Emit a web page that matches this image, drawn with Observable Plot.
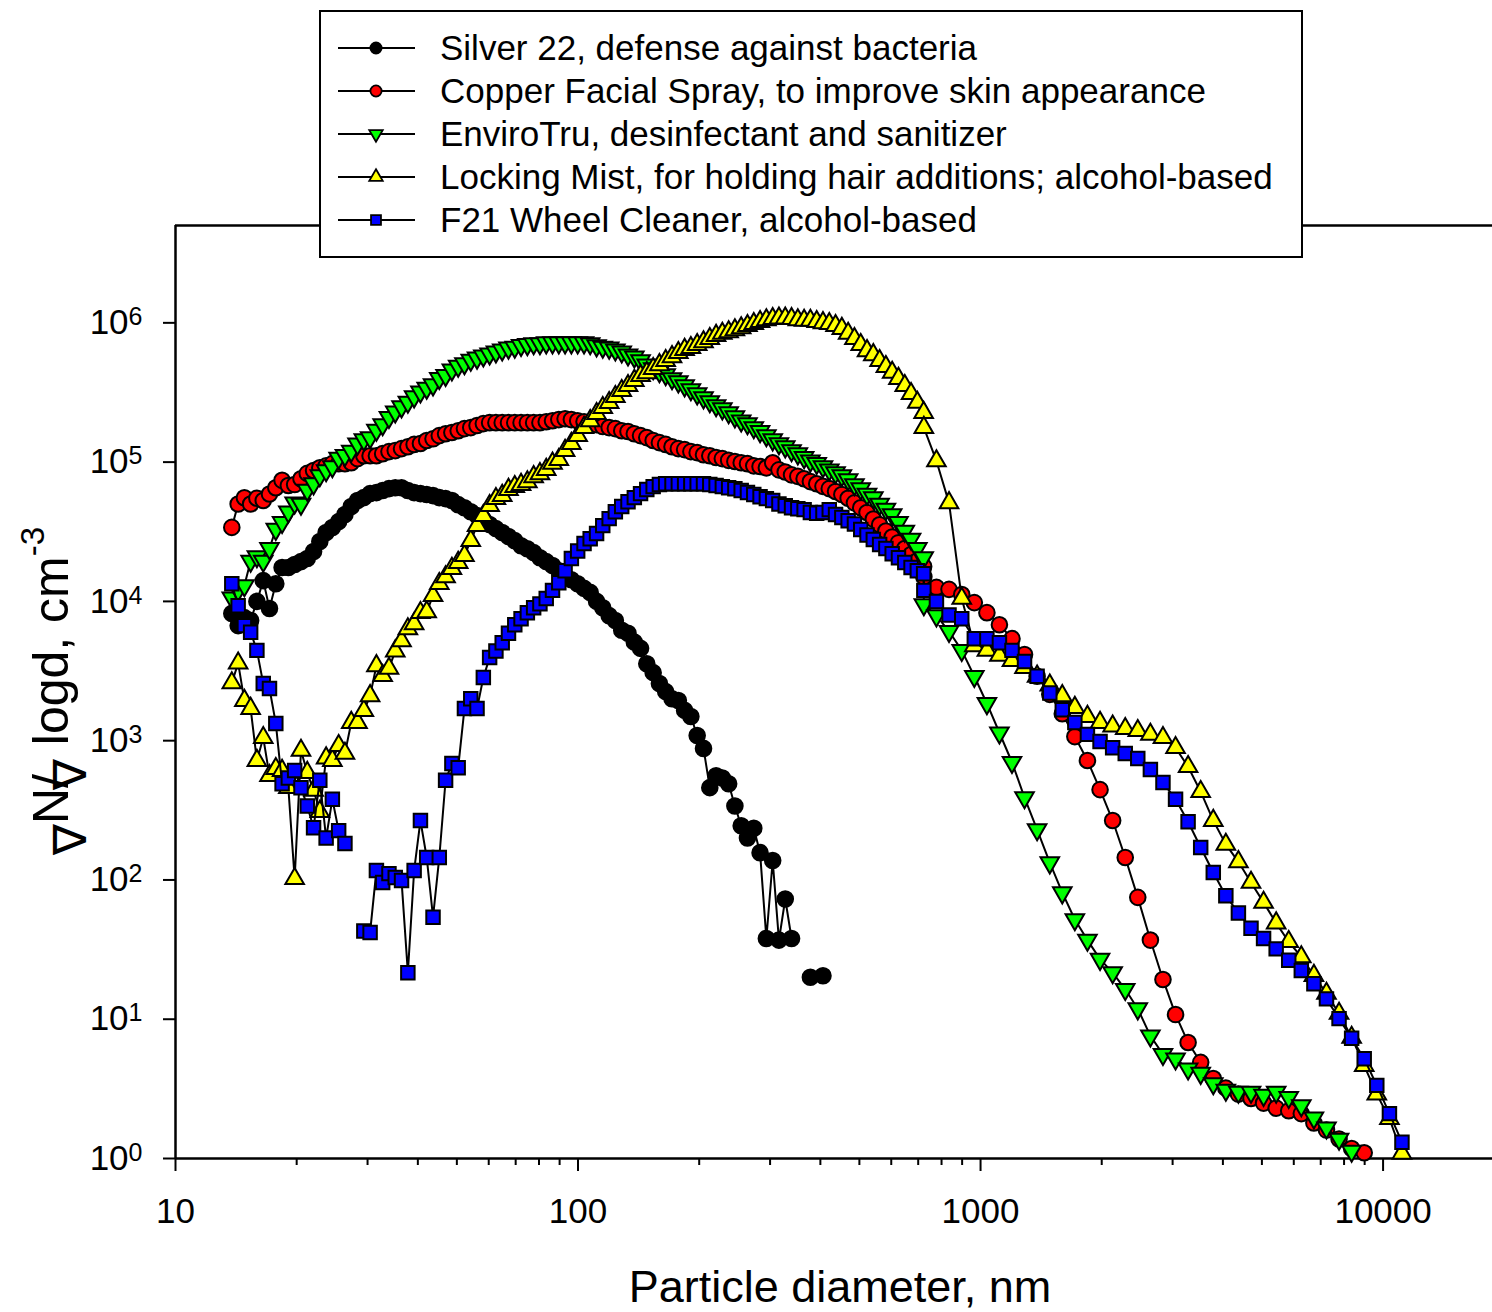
<!DOCTYPE html>
<html><head><meta charset="utf-8">
<script src="https://cdn.jsdelivr.net/npm/d3@7"></script>
<script src="https://cdn.jsdelivr.net/npm/@observablehq/plot@0.6"></script>
<style>html,body{margin:0;padding:0;background:#fff;overflow:hidden}</style>
</head><body><div id="chart"></div>
<script>
// ---------------- DATA ----------------
const seriesNames = [
  "Silver 22, defense against bacteria",
  "Copper Facial Spray, to improve skin appearance",
  "EnviroTru, desinfectant and sanitizer",
  "Locking Mist, for holding hair additions; alcohol-based",
  "F21 Wheel Cleaner, alcohol-based"
];
const seriesFills = ["#000000", "#ff0000", "#00ff00", "#ffff00", "#0000ff"];

// SMPS size channels (nm)
const smpsDiam = [13.80,14.31,14.83,15.37,15.93,16.52,17.12,17.75,18.40,19.07,
19.77,20.50,21.25,22.03,22.83,23.67,24.53,25.43,26.36,27.33,
28.33,29.37,30.44,31.56,32.71,33.91,35.15,36.44,37.78,39.16,
40.60,42.08,43.63,45.22,46.88,48.60,50.38,52.22,54.14,56.12,
58.18,60.31,62.52,64.81,67.18,69.64,72.19,74.84,77.58,80.42,
83.37,86.42,89.59,92.87,96.27,99.80,103.5,107.2,111.2,115.2,
119.5,123.8,128.4,133.1,138.0,143.0,148.2,153.7,159.3,165.1,
171.2,177.5,184.0,190.7,197.7,205.0,212.5,220.3,228.3,236.7,
245.3,254.3,263.6,273.3,283.3,293.7,304.5,315.6,327.2,339.2,
351.6,364.5,377.8,391.7,406.0,420.9,436.3,452.3,468.9,486.1,
503.9,522.4,541.5,561.4,581.9,603.2,625.3,648.3,672.0,696.6,722.2];
// APS size channels (nm)
const apsDiam = [723,777,835,898,965,1037,1114,1197,1286,1382,1486,1596,1715,1843,1981,2129,2288,2458,2642,2839,
3051,3278,3523,3786,4068,4371,4698,5048,5425,5829,6264,6732,7234,7774,8354,8977,9647,10370,11140];

// dN/dlogd, cm^-3 (SMPS channels then APS channels)
const silverValues = [8200,6700,7650,7300,10000,14100,8900,13400,17500,17500,
18400,19300,20300,22800,26900,31200,33900,37400,42000,48000,
53000,55600,59400,60400,62500,64500,65500,65500,62500,60400,
59400,58500,57500,55600,54700,53000,49500,47000,44000,41300,
38700,35600,33300,31200,29200,27300,25100,23900,22400,20600,
19300,18100,16600,15300,14300,13400,12400,11600,10000,9000,
7900,7300,6200,5900,5100,4600,3570,3080,2570,2250,
2000,1940,1650,1490,1090,880,460,560,540,490,
340,245,200,235,157,38,138,37,73,38,
null,null,20,null,20.5,null,null,null,null,null,
null,null,null,null,null,null,null,null,null,null,null];

const copperValues = [34000,50000,55500,50000,55000,53000,59000,65500,74000,68000,
69000,76000,83000,87000,91000,94000,97500,97500,97500,99000,
106000,111000,111000,111000,115000,119000,121000,125000,129000,134000,
136000,143000,147000,155000,160000,163000,168000,174000,177000,183000,
189000,192000,192000,192000,192000,192000,192000,192000,192000,192000,
195000,198000,202000,205000,202000,198000,195000,189000,186000,180000,
177000,174000,168000,166000,160000,155000,150000,143000,138000,134000,
129000,125000,123000,119000,117000,113000,111000,108000,106000,103000,
101000,99000,97500,94000,93000,91000,99000,88000,85000,81000,
79000,76000,72500,70000,67000,64500,61500,58500,55000,51000,
47000,43500,39000,35500,32000,29000,26400,24000,21700,19600,17800,
// APS
15000,12600,12200,11200,9800,8300,6800,5400,4150,2900,2150,1560,1070,720,445,267,145,75,37,19.3,
10.8,6.8,4.9,3.75,3.2,2.9,2.7,2.5,2.3,2.2,2.1,1.8,1.6,1.38,1.18,1.1,null,null,null];

const enviroValues = [10600,12000,13000,19500,21000,19500,24000,33000,37000,44000,
51000,50000,63000,70000,80000,87000,93000,107000,112000,120000,
135000,145000,150000,170000,186000,210000,230000,250000,270000,295000,
320000,340000,360000,400000,420000,460000,490000,510000,540000,560000,
580000,600000,620000,640000,660000,670000,690000,700000,710000,710000,
720000,720000,720000,720000,720000,720000,720000,710000,685000,670000,
660000,640000,620000,590000,570000,535000,500000,470000,447000,425000,
398000,378000,354000,332000,310000,290000,272000,255000,242000,227000,
212000,198000,189000,177000,166000,155000,145000,136000,129000,121000,
115000,108000,102000,98000,93000,88000,84000,80000,75000,69000,
64500,59000,55500,50000,46000,42000,37000,32000,28000,24000,20600,
// APS
9500,7900,6100,4450,2900,1850,1140,700,390,230,133,81,52,37,27,21.6,16.4,11.9,7.6,5.6,
5.2,4.4,4.1,3.45,3.1,3.0,3.0,2.85,3.0,2.75,2.4,1.96,1.66,1.38,1.13,null,null,null,null];

const lockingValues = [2600,3600,1940,1700,720,1050,560,630,610,460,
102,850,590,440,310,750,720,920,810,1350,
1350,1640,2100,3450,2930,3300,4400,5200,6350,6900,
8300,8400,11000,13400,15000,17200,19000,21300,27300,35000,
41300,48700,54700,57500,63500,66700,69000,72000,78500,82500,
88500,98000,104000,121000,136000,155000,177000,198000,223000,246000,
267000,295000,326000,354000,385000,417000,438000,469000,500000,535000,
570000,610000,643000,664000,697000,730000,770000,810000,840000,860000,
890000,920000,955000,987000,1020000,1050000,1070000,1080000,1080000,1070000,
1050000,1040000,1040000,1020000,1000000,987000,955000,910000,840000,770000,
697000,630000,590000,535000,485000,440000,398000,354000,310000,268000,227000,
// APS
177000,102000,51000,10500,4800,4450,4100,3750,3350,2900,2500,2100,1730,1490,1350,1270,1220,1180,1110,1050,
890,650,430,267,180,135,96,69,49,36,28,20.6,15.3,11,7.4,4.65,2.9,1.93,1.09];

const f21Values = [13400,9300,6700,6000,4450,2570,2370,1330,490,540,
610,460,340,237,520,200,380,226,183,null,
null,43,42,117,96,111,104,99,21.6,117,
267,145,54,145,520,685,640,1700,2000,1700,
2840,3950,4400,5050,5900,6800,7500,8300,9000,9600,
10500,12000,13600,16600,20300,23000,26000,28200,30700,35000,
39300,44000,48000,52000,55600,59400,63500,66700,69000,70000,
70000,70000,70000,70000,70000,70000,69000,68000,66700,65500,
64500,62500,60500,58500,56500,54700,53000,50000,48700,47000,
46300,45600,43500,43000,43500,45600,42000,40000,38000,36000,
32800,30000,27800,25600,24000,22000,20600,19000,17500,16600,15800,
// APS
12000,10000,8000,7500,5400,5400,5050,4450,3700,2900,2200,1670,1350,1110,985,890,810,745,620,500,
380,262,171,113,77,58,45,38,32,26.5,22.4,18,14,10.1,7.3,5.2,3.35,2.1,1.31];

const xMajorTicks = [10, 100, 1000, 10000];
const xMinorTicks = [20,30,40,50,60,70,80,90,200,300,400,500,600,700,800,900,2000,3000,4000,5000,6000,7000,8000,9000];
const yTicks = [1, 10, 100, 1000, 10000, 100000, 1000000];
const xDomain = [10, 18700];
const yDomain = [1, 5e6];

// ---------------- BUILD ----------------
const diam = smpsDiam.concat(apsDiam);
const seriesValues = [silverValues, copperValues, enviroValues, lockingValues, f21Values];
const seriesRows = seriesValues.map((vals, s) => vals.map((v, i) => ({d: diam[i], v, s})));

const triangleDown = {
  draw(ctx, size) {
    const y = Math.sqrt(size / (3 * Math.sqrt(3)));
    ctx.moveTo(0, 2 * y);
    ctx.lineTo(-Math.sqrt(3) * y, -y);
    ctx.lineTo(Math.sqrt(3) * y, -y);
    ctx.closePath();
  }
};
const symbols = [d3.symbolCircle, d3.symbolCircle, triangleDown, d3.symbolTriangle, d3.symbolSquare];
const radii = [7.8, 7.8, 6.9, 6.9, 7.6];

const FONT = "'Liberation Sans', Arial, Helvetica, sans-serif";

const seriesMarks = seriesRows.flatMap((rows, s) => [
  Plot.line(rows, {x: "d", y: "v", stroke: "black", strokeWidth: 2}),
  Plot.dot(rows, {x: "d", y: "v", symbol: symbols[s], r: radii[s], fill: seriesFills[s], stroke: "black", strokeWidth: 2})
]);

const svg = Plot.plot({
  width: 1492,
  height: 1312,
  marginLeft: 175,
  marginRight: 0,
  marginTop: 225,
  marginBottom: 154,
  style: {fontFamily: FONT, fontSize: "34px", color: "black", background: "white", overflow: "hidden"},
  x: {type: "log", domain: xDomain},
  y: {type: "log", domain: yDomain},
  marks: [
    Plot.axisX({ticks: xMinorTicks, tickSize: 7, strokeWidth: 2, tickFormat: () => "", label: null}),
    Plot.axisX({ticks: xMajorTicks, tickSize: 13, strokeWidth: 2, tickPadding: 27, fontSize: 35, tickFormat: d => String(d), label: null}),
    Plot.axisY({ticks: yTicks, tickSize: 12, strokeWidth: 2, tickPadding: 21, fontSize: 35, tickFormat: d => "10^" + Math.round(Math.log10(d)), label: null}),
    Plot.ruleY([yDomain[0]], {stroke: "black", strokeWidth: 2.5}),
    Plot.ruleY([yDomain[1]], {stroke: "black", strokeWidth: 2.5}),
    Plot.ruleX([xDomain[0]], {stroke: "black", strokeWidth: 2.5}),
    ...seriesMarks
  ]
});
document.getElementById("chart").appendChild(svg);

const root = d3.select(svg);
// superscript exponents on y tick labels
root.selectAll('g[aria-label="y-axis tick label"] text').each(function() {
  const parts = this.textContent.split("^");
  const t = d3.select(this);
  t.text(parts[0]);
  t.append("tspan").attr("dy", "-9").attr("font-size", "25px").text(parts[1]);
});

// axis titles
root.append("text")
  .attr("x", 840).attr("y", 1302)
  .attr("text-anchor", "middle")
  .attr("font-size", "45px").attr("font-family", FONT).attr("fill", "black")
  .text("Particle diameter, nm");

const yt = root.append("text")
  .attr("transform", "translate(68,691) rotate(-90)")
  .attr("text-anchor", "middle")
  .attr("font-size", "50px").attr("font-family", FONT).attr("fill", "black");
yt.append("tspan").attr("font-size", "46px").attr("dy", "18").text("\u2207");
yt.append("tspan").attr("dy", "-18").text("N/");
yt.append("tspan").attr("font-size", "46px").attr("dy", "18").attr("dx", "-16").text("\u2207");
yt.append("tspan").attr("dy", "-18").text(" logd, cm");
yt.append("tspan").attr("font-size", "33px").attr("dy", "-24").text("-3");

// legend box
const lg = root.append("g").attr("text-anchor", "start");
lg.append("rect").attr("x", 320).attr("y", 11).attr("width", 982).attr("height", 246)
  .attr("fill", "white").attr("stroke", "black").attr("stroke-width", 2);
const legendR = [5.6, 5.6, 5.0, 5.0, 5.6];
seriesNames.forEach((name, i) => {
  const cy = 48 + 43 * i;
  lg.append("line").attr("x1", 338).attr("x2", 415).attr("y1", cy).attr("y2", cy)
    .attr("stroke", "black").attr("stroke-width", 2);
  lg.append("path")
    .attr("transform", `translate(376,${cy})`)
    .attr("d", d3.symbol().type(symbols[i]).size(Math.PI * legendR[i] * legendR[i])())
    .attr("fill", seriesFills[i]).attr("stroke", "black").attr("stroke-width", 1.8);
  lg.append("text").attr("x", 440).attr("y", cy + 12)
    .attr("text-anchor", "start")
    .attr("font-size", "35px").attr("font-family", FONT).attr("fill", "black")
    .text(name);
});
</script>
</body></html>
